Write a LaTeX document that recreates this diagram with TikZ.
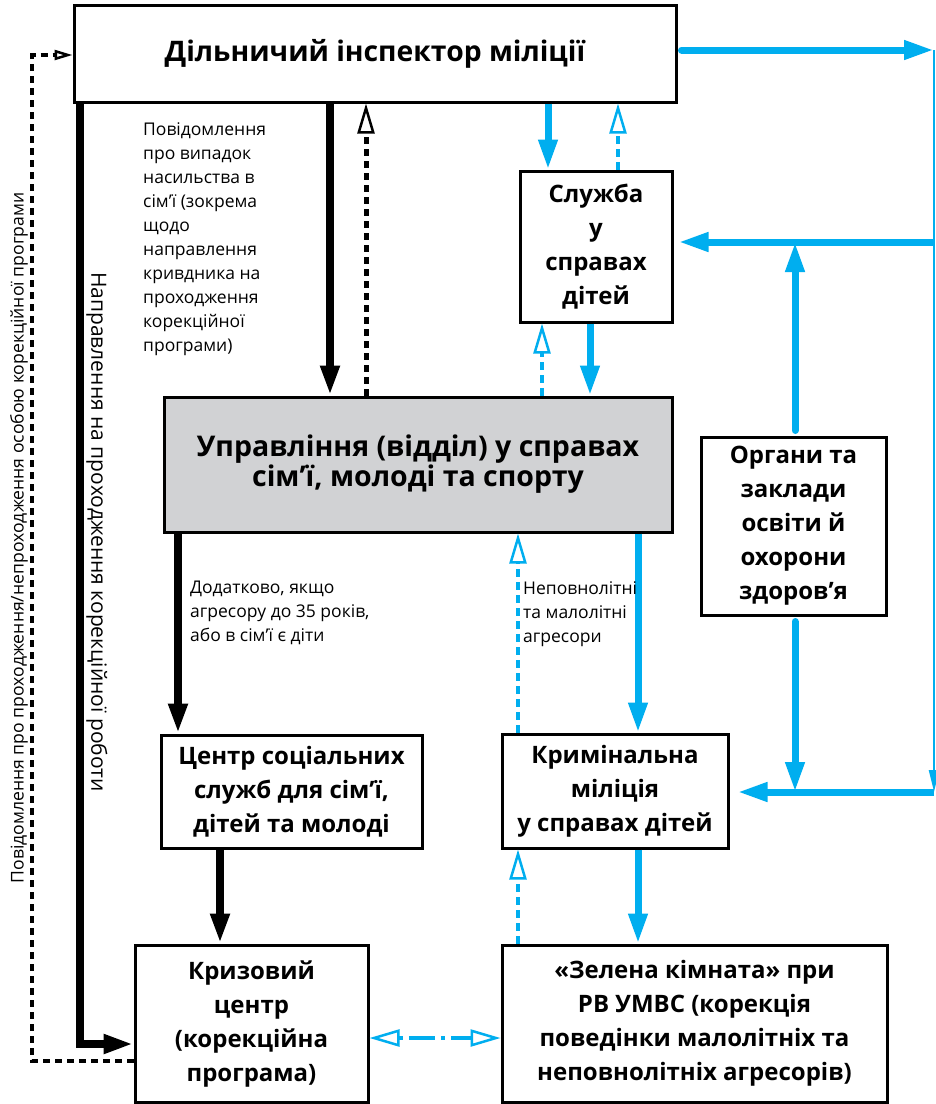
\documentclass[tikz,border=0pt]{standalone}
\usepackage{fontspec}
\setmainfont{Open Sans}
\usetikzlibrary{arrows.meta}
\definecolor{cy}{HTML}{00AEEF}
\definecolor{gr}{HTML}{D1D2D4}
\begin{document}
\begin{tikzpicture}[x=1pt,y=-1pt,
 box/.style={draw=black, line width=3pt, fill=white, align=center, inner sep=0pt, font=\fontsize{24}{34}\selectfont\bfseries},
 blk/.style={line width=8pt, -{Triangle[length=30pt,width=18pt]}},
 blkd/.style={line width=5pt, dash pattern=on 7pt off 5pt, -{Triangle[fill=white,length=30pt,width=17pt,line width=2.5pt]}},
 blkds/.style={line width=4.5pt, dash pattern=on 7pt off 5pt, -{Triangle[fill=white,length=18pt,width=10pt,line width=2.5pt]}},
 bl/.style={cy, line width=7pt, -{Triangle[length=30pt,width=18pt]}},
 bld/.style={cy, line width=4.5pt, dash pattern=on 8pt off 5pt, -{Triangle[fill=white,length=30pt,width=17pt,line width=2.5pt]}},
 lbl/.style={align=left, font=\fontsize{17.5}{24}\selectfont, inner sep=0pt, anchor=north west},
 rlbl/.style={font=\fontsize{17.6}{24}\selectfont, inner sep=0pt}
]
\useasboundingbox (0,0) rectangle (936,1104);
\fill[white] (0,0) rectangle (936,1104);

% boxes
\node[box, minimum width=602, minimum height=97, font=\fontsize{28.3}{32}\selectfont\bfseries] (top) at (375,53.5) {Дільничий інспектор міліції};
\node[box, minimum width=152, minimum height=151] (sl) at (596,246.5) {Служба\\у\\справах\\дітей};
\node[box, fill=gr, minimum width=508, minimum height=135, font=\fontsize{28.5}{30}\selectfont\bfseries] (upr) at (418,464.5) {Управління (відділ) у справах\\сім’ї, молоді та спорту};
\node[box, minimum width=185, minimum height=178] (org) at (793.5,526) {Органи та\\заклади\\освіти й\\охорони\\здоров’я};
\node[box, minimum width=261, minimum height=113] (csc) at (291.5,791.5) {Центр соціальних\\служб для сім’ї,\\дітей та молоді};
\node[box, minimum width=226, minimum height=114] (krm) at (615,791) {Кримінальна\\міліція\\у справах дітей};
\node[box, minimum width=233, minimum height=157] (krz) at (251.5,1023.5) {Кризовий\\центр\\(корекційна\\програма)};
\node[box, minimum width=385, minimum height=157] (zel) at (694.5,1023.5) {«Зелена кімната» при\\РВ УМВС (корекція\\поведінки малолітніх та\\неповнолітніх агресорів)};

% column / row coordinates
\coordinate (xa) at (80,0);
\coordinate (xb) at (178,0);
\coordinate (xc) at (220,0);
\coordinate (xd) at (330,0);
\coordinate (xe) at (366,0);
\coordinate (xf) at (518,0);
\coordinate (xg) at (542,0);
\coordinate (xh) at (548,0);
\coordinate (xi) at (590,0);
\coordinate (xj) at (618,0);
\coordinate (xk) at (638,0);
\coordinate (r1) at (934,50);
\coordinate (r2) at (934,242);
\coordinate (r3) at (934,792);
\coordinate (o1) at (795,242);
\coordinate (o2) at (795,792);
\coordinate (pL) at (80,1044);
\coordinate (pD1) at (32,1061);
\coordinate (pD2) at (32,55);
\coordinate (pB) at (0,1038);

% black connectors
\draw[blk] (top.south -| xd) -- (upr.north -| xd);
\draw[blkd] (upr.north -| xe) -- (top.south -| xe);
\draw[blk] (upr.south -| xb) -- (csc.north -| xb);
\draw[blk] (csc.south -| xc) -- (krz.north -| xc);
\draw[blk] (top.south -| pL) |- (krz.west |- pL);
\draw[blkds] (krz.west |- pD1) -| (pD2) -- (top.west |- pD2);

% blue connectors
\draw[bl] (top.south -| xh) -- (sl.north -| xh);
\draw[bld] (sl.north -| xj) -- (top.south -| xj);
\draw[bld] (upr.north -| xg) -- (sl.south -| xg);
\draw[bl] (sl.south -| xi) -- (upr.north -| xi);
\draw[bl] (upr.south -| xk) -- (krm.north -| xk);
\draw[bld] (krm.north -| xf) -- (upr.south -| xf);
\draw[bl] (krm.south -| xk) -- (zel.north -| xk);
\draw[bld] (zel.north -| xf) -- (krm.south -| xf);
\draw[bld, dash pattern=on 4pt off 6pt on 26pt off 6pt, {Triangle[fill=white,length=30pt,width=17pt,line width=2.5pt]}-{Triangle[fill=white,length=30pt,width=17pt,line width=2.5pt]}] (krz.east |- pB) -- (zel.west |- pB);

\draw[bl, line cap=round, shorten <=4pt] (top.east |- r1) -- (r1);
\draw[cy, line width=2.5pt, -{Triangle[length=22pt,width=10pt]}] (r1) -- (r3);
\draw[bl, shorten >=5pt] (r2) -- (sl.east |- r2);
\draw[bl, line cap=round, shorten <=5pt] (org.north -| o1) -- (o1);
\draw[bl, line cap=round, shorten <=5pt] (org.south -| o2) -- (o2);
\draw[bl, shorten >=8pt] (r3) -- (krm.east |- r3);

% labels
\node[lbl] (l1) at (143,122) {Повідомлення\\про випадок\\насильства в\\сім’ї (зокрема\\щодо\\направлення\\кривдника на\\проходження\\корекційної\\програми)};
\node[lbl] (l2) at (190,581) {Додатково, якщо\\агресору до 35 років,\\або в сім’ї є діти};
\node[lbl] (l3) at (523,581) {Неповнолітні\\та малолітні\\агресори};
\node[rlbl, rotate=90] (l4) at (19,538) {Повідомлення про проходження/непроходження особою корекційної програми};
\node[rlbl, rotate=-90, font=\fontsize{21}{24}\selectfont] (l5) at (97,532) {Направлення на проходження корекційної роботи};
\end{tikzpicture}
\end{document}
